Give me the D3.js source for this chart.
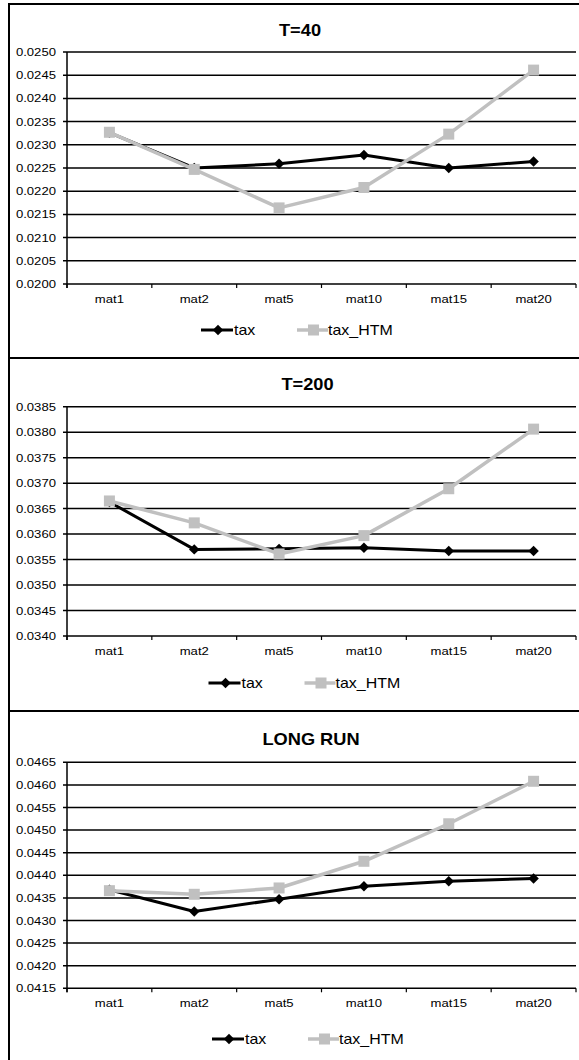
<!DOCTYPE html>
<html><head><meta charset="utf-8">
<script src="https://cdn.jsdelivr.net/npm/d3@7"></script>
<style>
html,body{margin:0;padding:0;background:#fff;}
svg{display:block;font-family:Arial,"Liberation Sans",sans-serif;}
</style></head>
<body>
<svg id="c" width="579" height="1060"></svg>
<script>
const categories = ["mat1","mat2","mat5","mat10","mat15","mat20"];
const seriesNames = ["tax","tax_HTM"];

const titles = ["T=40","T=200","LONG RUN"];

const tax_T40      = [0.02326,0.02250,0.02259,0.02278,0.02250,0.02264];
const taxHTM_T40   = [0.02327,0.02247,0.02164,0.02208,0.02323,0.02461];
const tax_T200     = [0.03663,0.03570,0.03571,0.03573,0.03567,0.03567];
const taxHTM_T200  = [0.03665,0.03622,0.03561,0.03597,0.03689,0.03806];
const tax_LR       = [0.04368,0.04320,0.04347,0.04376,0.04387,0.04393];
const taxHTM_LR    = [0.04366,0.04358,0.04372,0.04431,0.04514,0.04608];

const yTicks_T40  = [0.0200,0.0205,0.0210,0.0215,0.0220,0.0225,0.0230,0.0235,0.0240,0.0245,0.0250];
const yTicks_T200 = [0.0340,0.0345,0.0350,0.0355,0.0360,0.0365,0.0370,0.0375,0.0380,0.0385];
const yTicks_LR   = [0.0415,0.0420,0.0425,0.0430,0.0435,0.0440,0.0445,0.0450,0.0455,0.0460,0.0465];

// layout (pixels) kept separate from data
const panels = [
  {title:titles[0], tax:tax_T40, htm:taxHTM_T40, ticks:yTicks_T40,
   box:[4,358], plot:[52,284], titleY:36, xLabY:303, legY:330, cx:300},
  {title:titles[1], tax:tax_T200, htm:taxHTM_T200, ticks:yTicks_T200,
   box:[358,711], plot:[406.7,636], titleY:390, xLabY:655, legY:683, cx:307.5},
  {title:titles[2], tax:tax_LR, htm:taxHTM_LR, ticks:yTicks_LR,
   box:[711,1075], plot:[762.3,988.3], titleY:745, xLabY:1007, legY:1039, cx:311}
];

const svg = d3.select("#c");
const X0 = 67, X1 = 576;
const SX = 1.14;
const grey = "#c0c0c0";
const fmt = d3.format(".4f");

function txt(g, x, y, s, size, anchor, weight){
  return g.append("text")
    .attr("transform", `translate(${x},${y}) scale(${SX},1)`)
    .attr("text-anchor", anchor)
    .attr("font-size", size)
    .attr("font-weight", weight||"normal")
    .attr("fill", "#000")
    .text(s);
}

const x = d3.scaleBand().domain(categories).range([X0, X1]);

panels.forEach(p => {
  const g = svg.append("g");
  // panel border
  g.append("rect").attr("x", 9).attr("y", p.box[0])
    .attr("width", 620).attr("height", p.box[1]-p.box[0])
    .attr("fill", "none").attr("stroke", "#000").attr("stroke-width", 2);

  const y = d3.scaleLinear().domain([p.ticks[0], p.ticks[p.ticks.length-1]]).range([p.plot[1], p.plot[0]]);

  // gridlines
  g.selectAll(".grid").data(p.ticks).join("line")
    .attr("x1", X0-4).attr("x2", X1)
    .attr("y1", d => y(d)).attr("y2", d => y(d))
    .attr("stroke", "#000").attr("stroke-width", 1.5);
  // y axis line
  g.append("line").attr("x1", X0).attr("x2", X0)
    .attr("y1", p.plot[0]).attr("y2", p.plot[1]+4)
    .attr("stroke", "#000").attr("stroke-width", 1.5);
  // x ticks at category boundaries
  const bounds = categories.map(c => x(c)).concat([x(categories[categories.length-1]) + x.bandwidth()]);
  g.selectAll(".xt").data(bounds).join("line")
    .attr("x1", d => d).attr("x2", d => d)
    .attr("y1", p.plot[1]).attr("y2", p.plot[1]+4)
    .attr("stroke", "#000").attr("stroke-width", 1.2);

  // y labels
  p.ticks.forEach(t => txt(g, 56, y(t)+4, fmt(t), 11.5, "end"));
  // x labels
  categories.forEach(c => txt(g, x(c)+x.bandwidth()/2, p.xLabY, c, 11.5, "middle"));
  // title
  txt(g, p.cx, p.titleY, p.title, 16, "middle", "bold");

  const cxp = c => x(c) + x.bandwidth()/2;
  const line = d3.line().x((d,i) => cxp(categories[i])).y(d => y(d));

  // tax line (black, diamonds)
  g.append("path").datum(p.tax).attr("d", line)
    .attr("fill", "none").attr("stroke", "#000").attr("stroke-width", 3).attr("stroke-linejoin","round");
  g.selectAll(".dia").data(p.tax).join("path")
    .attr("d", d3.symbol().type(d3.symbolDiamond2).size(70))
    .attr("transform", (d,i) => `translate(${cxp(categories[i])},${y(d)})`)
    .attr("fill", "#000");

  // tax_HTM line (grey, squares)
  g.append("path").datum(p.htm).attr("d", line)
    .attr("fill", "none").attr("stroke", grey).attr("stroke-width", 3.5).attr("stroke-linejoin","round");
  g.selectAll(".sq").data(p.htm).join("rect")
    .attr("x", (d,i) => cxp(categories[i]) - 5.5).attr("y", d => y(d) - 5.5)
    .attr("width", 11).attr("height", 11).attr("fill", grey);

  // legend
  const lx = p.cx - 99;
  g.append("line").attr("x1", lx).attr("x2", lx+32).attr("y1", p.legY).attr("y2", p.legY)
    .attr("stroke", "#000").attr("stroke-width", 3);
  g.append("path").attr("d", d3.symbol().type(d3.symbolDiamond2).size(70))
    .attr("transform", `translate(${lx+17},${p.legY})`).attr("fill", "#000");
  txt(g, lx+33, p.legY+5, seriesNames[0], 14, "start");
  const lx2 = lx + 96;
  g.append("line").attr("x1", lx2).attr("x2", lx2+31).attr("y1", p.legY).attr("y2", p.legY)
    .attr("stroke", grey).attr("stroke-width", 3.5);
  g.append("rect").attr("x", lx2+11).attr("y", p.legY-5.5).attr("width", 11).attr("height", 11).attr("fill", grey);
  txt(g, lx2+31, p.legY+5, seriesNames[1], 14, "start");
});
</script>
</body></html>
